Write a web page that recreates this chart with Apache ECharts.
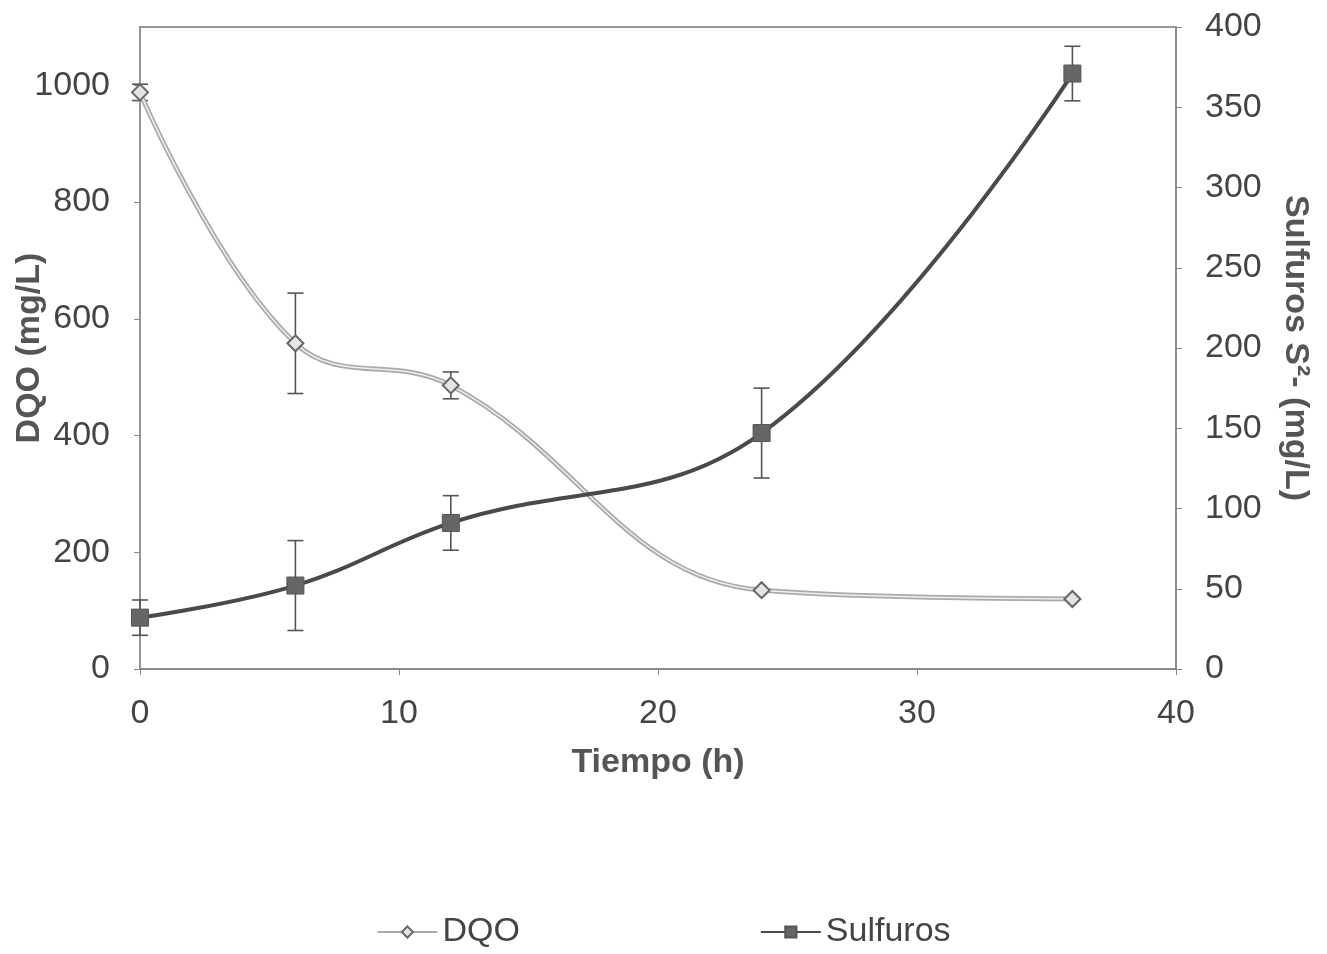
<!DOCTYPE html>
<html>
<head>
<meta charset="utf-8">
<script src="https://cdn.jsdelivr.net/npm/echarts@6/dist/echarts.min.js"></script>
<style>
  html, body { margin: 0; padding: 0; background: #fff; }
  #chart { width: 1327px; height: 954px; }
</style>
</head>
<body>
<div id="chart"></div>
<script>
// tiempo (h)
const tiempo = [0, 6, 12, 24, 36]
// DQO (mg/L), eje izquierdo
const dqo = [988, 558, 486, 135, 120]
const dqoErr = [14, 86, 23, 0, 0]
// Sulfuros S2- (mg/L), eje derecho
const sulfuros = [32, 52, 91, 147, 371]
const sulfurosErr = [11, 28, 17, 28, 17]

const font = 'Liberation Sans, Arial, sans-serif'
const myChart = echarts.init(document.getElementById('chart'))

const pairs = (ys) => tiempo.map((t, i) => [t, ys[i]])
const errData = (ys, es) => tiempo.map((t, i) => [t, ys[i] - es[i], ys[i] + es[i]]).filter((d, i) => es[i] > 0)

function errorBar(params, api) {
  const x = api.value(0)
  const lo = api.coord([x, api.value(1)])
  const hi = api.coord([x, api.value(2)])
  const w = 8
  const style = { stroke: '#555', lineWidth: 1.6 }
  return {
    type: 'group',
    children: [
      { type: 'line', shape: { x1: lo[0], y1: lo[1], x2: hi[0], y2: hi[1] }, style },
      { type: 'line', shape: { x1: lo[0] - w, y1: lo[1], x2: lo[0] + w, y2: lo[1] }, style },
      { type: 'line', shape: { x1: hi[0] - w, y1: hi[1], x2: hi[0] + w, y2: hi[1] }, style }
    ]
  }
}

const plain = (v) => String(v)
const titleStyle = { fontSize: 34, fontWeight: 'bold', color: '#555', fontFamily: font }

const option = {
  animation: false,
  textStyle: { fontFamily: font },
  grid: {
    left: 140, right: 151, top: 27, bottom: 285,
    outerBoundsMode: 'none',
    containLabel: false,
    show: true, borderColor: '#777', borderWidth: 1.5
  },
  legend: {
    bottom: 0,
    left: 'center',
    itemGap: 240,
    itemWidth: 60,
    itemHeight: 14,
    textStyle: { fontSize: 34, color: '#444', fontFamily: font },
    data: ['DQO', 'Sulfuros']
  },
  xAxis: {
    type: 'value',
    min: 0, max: 40, interval: 10,
    name: 'Tiempo (h)',
    nameLocation: 'middle',
    nameGap: 77,
    nameMoveOverlap: false,
    nameTextStyle: titleStyle,
    axisLine: { lineStyle: { color: '#888', width: 1.5 } },
    axisTick: { show: true, inside: false, length: 6, lineStyle: { color: '#888' } },
    axisLabel: { fontSize: 34, color: '#444', margin: 28, formatter: plain },
    splitLine: { show: false }
  },
  yAxis: [{
    type: 'value',
    min: 0, max: 1100, interval: 200,
    name: 'DQO (mg/L)',
    nameLocation: 'middle',
    nameGap: 93,
    nameMoveOverlap: false,
    nameTextStyle: titleStyle,
    axisLine: { show: true, lineStyle: { color: '#8a9a95', width: 1.5 } },
    axisTick: { show: true, length: 6, lineStyle: { color: '#888' } },
    axisLabel: { fontSize: 34, color: '#444', margin: 30, showMaxLabel: false, formatter: plain },
    splitLine: { show: false }
  }, {
    type: 'value',
    position: 'right',
    min: 0, max: 400, interval: 50,
    name: 'Sulfuros S²- (mg/L)',
    nameLocation: 'middle',
    nameRotate: -90,
    nameGap: 102,
    nameMoveOverlap: false,
    nameTextStyle: titleStyle,
    axisLine: { show: true, lineStyle: { color: '#888', width: 1.5 } },
    axisTick: { show: true, length: 6, lineStyle: { color: '#888' } },
    axisLabel: { fontSize: 34, color: '#444', margin: 29, formatter: plain },
    splitLine: { show: false }
  }],
  series: [{
    name: 'DQO',
    type: 'line',
    yAxisIndex: 0,
    data: pairs(dqo),
    smooth: 0.4,
    symbol: 'diamond',
    symbolSize: 16,
    lineStyle: { color: '#aaa', width: 5 },
    itemStyle: { color: '#e4e4e4', borderColor: '#666', borderWidth: 2 },
    z: 3
  }, {
    name: 'DQO-inner',
    type: 'line',
    yAxisIndex: 0,
    data: pairs(dqo),
    smooth: 0.4,
    symbol: 'none',
    silent: true,
    lineStyle: { color: '#eee', width: 1.5 },
    z: 3
  }, {
    name: 'DQO-err',
    type: 'custom',
    yAxisIndex: 0,
    data: errData(dqo, dqoErr),
    renderItem: errorBar,
    z: 2
  }, {
    name: 'Sulfuros',
    type: 'line',
    yAxisIndex: 1,
    data: pairs(sulfuros),
    smooth: 0.4,
    symbol: 'rect',
    symbolSize: 17,
    lineStyle: { color: '#4a4a4a', width: 4 },
    itemStyle: { color: '#666', borderColor: '#555', borderWidth: 1 },
    z: 4
  }, {
    name: 'Sulfuros-err',
    type: 'custom',
    yAxisIndex: 1,
    data: errData(sulfuros, sulfurosErr),
    renderItem: errorBar,
    z: 2
  }]
}
myChart.setOption(option)
</script>
</body>
</html>
